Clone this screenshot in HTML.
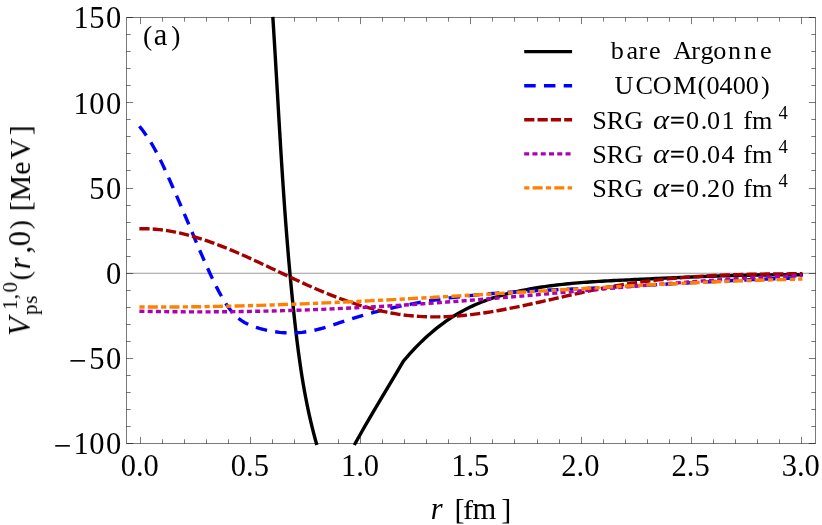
<!DOCTYPE html>
<html><head><meta charset="utf-8"><title>Plot</title>
<style>
html,body{margin:0;padding:0;background:#fff;}
body{width:822px;height:525px;overflow:hidden;}
svg{display:block;}
text{font-family:"Liberation Serif",serif;fill:#000;}
</style></head><body>
<svg width="822" height="525" viewBox="0 0 822 525">
<rect width="822" height="525" fill="#fff"/>
<defs><mask id="mk" maskUnits="userSpaceOnUse" x="0" y="0" width="822" height="525"><rect width="822" height="525" fill="#fff"/></mask></defs>
<path d="M126.50,273.30 H815.50" stroke="#9a9a9a" stroke-width="1.1" fill="none"/>
<rect x="126.5" y="17.5" width="689.0" height="426.0" fill="none" stroke="#000" stroke-opacity="0.52" stroke-width="1"/>
<path d="M140.5,443.5 v-6.6 M140.5,17.5 v6.6 M162.5,443.5 v-4.2 M162.5,17.5 v4.2 M184.5,443.5 v-4.2 M184.5,17.5 v4.2 M206.5,443.5 v-4.2 M206.5,17.5 v4.2 M228.5,443.5 v-4.2 M228.5,17.5 v4.2 M250.5,443.5 v-6.6 M250.5,17.5 v6.6 M272.5,443.5 v-4.2 M272.5,17.5 v4.2 M294.5,443.5 v-4.2 M294.5,17.5 v4.2 M316.5,443.5 v-4.2 M316.5,17.5 v4.2 M338.5,443.5 v-4.2 M338.5,17.5 v4.2 M360.5,443.5 v-6.6 M360.5,17.5 v6.6 M382.5,443.5 v-4.2 M382.5,17.5 v4.2 M404.5,443.5 v-4.2 M404.5,17.5 v4.2 M426.5,443.5 v-4.2 M426.5,17.5 v4.2 M448.5,443.5 v-4.2 M448.5,17.5 v4.2 M470.5,443.5 v-6.6 M470.5,17.5 v6.6 M492.5,443.5 v-4.2 M492.5,17.5 v4.2 M514.5,443.5 v-4.2 M514.5,17.5 v4.2 M537.5,443.5 v-4.2 M537.5,17.5 v4.2 M559.5,443.5 v-4.2 M559.5,17.5 v4.2 M581.5,443.5 v-6.6 M581.5,17.5 v6.6 M603.5,443.5 v-4.2 M603.5,17.5 v4.2 M625.5,443.5 v-4.2 M625.5,17.5 v4.2 M647.5,443.5 v-4.2 M647.5,17.5 v4.2 M669.5,443.5 v-4.2 M669.5,17.5 v4.2 M691.5,443.5 v-6.6 M691.5,17.5 v6.6 M713.5,443.5 v-4.2 M713.5,17.5 v4.2 M735.5,443.5 v-4.2 M735.5,17.5 v4.2 M757.5,443.5 v-4.2 M757.5,17.5 v4.2 M779.5,443.5 v-4.2 M779.5,17.5 v4.2 M801.5,443.5 v-6.6 M801.5,17.5 v6.6 M126.5,443.5 h6.6 M815.5,443.5 h-6.6 M126.5,426.5 h4.2 M815.5,426.5 h-4.2 M126.5,409.5 h4.2 M815.5,409.5 h-4.2 M126.5,392.5 h4.2 M815.5,392.5 h-4.2 M126.5,375.5 h4.2 M815.5,375.5 h-4.2 M126.5,358.5 h6.6 M815.5,358.5 h-6.6 M126.5,341.5 h4.2 M815.5,341.5 h-4.2 M126.5,324.5 h4.2 M815.5,324.5 h-4.2 M126.5,307.5 h4.2 M815.5,307.5 h-4.2 M126.5,290.5 h4.2 M815.5,290.5 h-4.2 M126.5,273.5 h6.6 M815.5,273.5 h-6.6 M126.5,256.5 h4.2 M815.5,256.5 h-4.2 M126.5,239.5 h4.2 M815.5,239.5 h-4.2 M126.5,222.5 h4.2 M815.5,222.5 h-4.2 M126.5,205.5 h4.2 M815.5,205.5 h-4.2 M126.5,188.5 h6.6 M815.5,188.5 h-6.6 M126.5,170.5 h4.2 M815.5,170.5 h-4.2 M126.5,153.5 h4.2 M815.5,153.5 h-4.2 M126.5,136.5 h4.2 M815.5,136.5 h-4.2 M126.5,119.5 h4.2 M815.5,119.5 h-4.2 M126.5,102.5 h6.6 M815.5,102.5 h-6.6 M126.5,85.5 h4.2 M815.5,85.5 h-4.2 M126.5,68.5 h4.2 M815.5,68.5 h-4.2 M126.5,51.5 h4.2 M815.5,51.5 h-4.2 M126.5,34.5 h4.2 M815.5,34.5 h-4.2 M126.5,17.5 h6.6 M815.5,17.5 h-6.6" stroke="#000" stroke-opacity="0.52" stroke-width="1" fill="none"/>
<g>
<path d="M272.82,16.80 L273.20,22.83 L273.58,28.86 L273.95,34.89 L274.32,40.92 L274.69,46.95 L275.05,52.99 L275.41,59.02 L275.77,65.05 L276.12,71.08 L276.48,77.11 L276.83,83.14 L277.18,89.17 L277.54,95.20 L277.89,101.23 L278.24,107.26 L278.60,113.30 L278.95,119.33 L279.31,125.36 L279.67,131.39 L280.04,137.42 L280.40,143.45 L280.77,149.48 L281.15,155.51 L281.53,161.54 L281.91,167.57 L282.30,173.61 L282.70,179.64 L283.10,185.67 L283.51,191.70 L283.93,197.73 L284.35,203.76 L284.78,209.79 L285.22,215.82 L285.67,221.85 L286.13,227.88 L286.60,233.92 L287.08,239.95 L287.57,245.98 L288.07,252.01 L288.58,258.04 L289.10,264.07 L289.64,270.10 L290.19,276.13 L290.75,282.16 L291.33,288.19 L291.92,294.23 L292.52,300.26 L293.14,306.29 L293.78,312.32 L294.43,318.35 L295.09,324.38 L295.78,330.41 L296.49,336.44 L297.22,342.47 L297.99,348.50 L298.78,354.54 L299.61,360.57 L300.48,366.60 L301.39,372.63 L302.35,378.66 L303.36,384.69 L304.41,390.72 L305.53,396.75 L306.70,402.78 L307.94,408.81 L309.24,414.85 L310.61,420.88 L312.05,426.91 L313.57,432.94 L315.17,438.97 L316.85,445.00" stroke="#000" stroke-width="3.40" fill="none"/>
<path d="M354.28,445.00 L357.64,438.99 L361.05,432.97 L364.50,426.96 L367.98,420.94 L371.49,414.93 L375.03,408.91 L378.59,402.90 L382.16,396.89 L385.74,390.87 L389.32,384.86 L392.90,378.84 L396.48,372.83 L400.04,366.81 L403.58,360.80 L406.70,357.41 L409.70,353.98 L412.71,350.66 L415.71,347.46 L418.71,344.38 L421.71,341.41 L424.72,338.56 L427.72,335.81 L430.72,333.17 L433.72,330.63 L436.72,328.19 L439.73,325.85 L442.73,323.61 L445.73,321.46 L448.73,319.40 L451.74,317.43 L454.74,315.55 L457.74,313.75 L460.74,312.03 L463.75,310.38 L466.75,308.82 L469.75,307.33 L472.75,305.90 L475.75,304.55 L478.76,303.26 L481.76,302.04 L484.76,300.88 L487.76,299.77 L490.77,298.72 L493.77,297.72 L496.77,296.78 L499.77,295.88 L502.77,295.03 L505.78,294.22 L508.78,293.45 L511.78,292.72 L514.78,292.02 L517.79,291.36 L520.79,290.73 L523.79,290.13 L526.79,289.55 L529.79,288.99 L532.80,288.46 L535.80,287.96 L538.80,287.47 L541.80,287.01 L544.81,286.57 L547.81,286.15 L550.81,285.74 L553.81,285.36 L556.82,285.00 L559.82,284.65 L562.82,284.32 L565.82,284.00 L568.82,283.70 L571.83,283.42 L574.83,283.15 L577.83,282.89 L580.83,282.64 L583.84,282.41 L586.84,282.19 L589.84,281.97 L592.84,281.77 L595.84,281.58 L598.85,281.39 L601.85,281.21 L604.85,281.04 L607.85,280.87 L610.86,280.71 L613.86,280.56 L616.86,280.41 L619.86,280.26 L622.86,280.11 L625.87,279.97 L628.87,279.83 L631.87,279.68 L634.87,279.54 L637.88,279.40 L640.88,279.26 L643.88,279.11 L646.88,278.97 L649.88,278.83 L652.89,278.69 L655.89,278.55 L658.89,278.42 L661.89,278.28 L664.90,278.14 L667.90,278.01 L670.90,277.88 L673.90,277.75 L676.91,277.62 L679.91,277.49 L682.91,277.36 L685.91,277.24 L688.91,277.11 L691.92,276.99 L694.92,276.87 L697.92,276.76 L700.92,276.64 L703.93,276.53 L706.93,276.42 L709.93,276.32 L712.93,276.21 L715.93,276.11 L718.94,276.01 L721.94,275.92 L724.94,275.83 L727.94,275.74 L730.95,275.65 L733.95,275.57 L736.95,275.49 L739.95,275.42 L742.95,275.35 L745.96,275.28 L748.96,275.22 L751.96,275.16 L754.96,275.11 L757.97,275.05 L760.97,275.01 L763.97,274.97 L766.97,274.93 L769.98,274.90 L772.98,274.87 L775.98,274.84 L778.98,274.83 L781.98,274.81 L784.99,274.80 L787.99,274.80 L790.99,274.80 L793.99,274.81 L797.00,274.82 L800.00,274.84 L803.00,274.87" stroke="#000" stroke-width="3.40" fill="none" stroke-linejoin="round"/>
<path d="M139.40,126.25 L141.90,129.33 L144.40,132.65 L146.91,136.22 L149.41,140.03 L151.91,144.11 L154.41,148.46 L156.91,153.08 L159.42,157.99 L161.92,163.13 L164.42,168.47 L166.92,173.95 L169.42,179.55 L171.92,185.21 L174.43,190.89 L176.93,196.61 L179.43,202.39 L181.93,208.22 L184.43,214.11 L186.94,220.03 L189.44,225.97 L191.94,231.92 L194.44,237.86 L196.94,243.77 L199.45,249.63 L201.95,255.43 L204.45,261.15 L206.95,266.77 L209.45,272.28 L211.95,277.65 L214.46,282.86 L216.96,287.88 L219.46,292.67 L221.96,297.19 L224.46,301.42 L226.97,305.30 L229.47,308.81 L231.97,311.92 L234.47,314.64 L236.97,317.02 L239.48,319.08 L241.98,320.86 L244.48,322.40 L246.98,323.72 L249.48,324.87 L251.98,325.87 L254.49,326.77 L256.99,327.59 L259.49,328.35 L261.99,329.05 L264.49,329.70 L267.00,330.29 L269.50,330.82 L272.00,331.29 L274.50,331.70 L277.00,332.05 L279.51,332.35 L282.01,332.59 L284.51,332.76 L287.01,332.88 L289.51,332.94 L292.02,332.94 L294.52,332.88 L297.02,332.76 L299.52,332.58 L302.02,332.34 L304.52,332.04 L307.03,331.68 L309.53,331.26 L312.03,330.78 L314.53,330.24 L317.03,329.64 L319.54,328.99 L322.04,328.30 L324.54,327.57 L327.04,326.81 L329.54,326.02 L332.05,325.21 L334.55,324.38 L337.05,323.55 L339.55,322.71 L342.05,321.87 L344.55,321.05 L347.06,320.23 L349.56,319.43 L352.06,318.65 L354.56,317.88 L357.06,317.12 L359.57,316.38 L362.07,315.66 L364.57,314.94 L367.07,314.24 L369.57,313.56 L372.08,312.88 L374.58,312.22 L377.08,311.58 L379.58,310.95 L382.08,310.32 L384.58,309.72 L387.09,309.12 L389.59,308.54 L392.09,307.97 L394.59,307.41 L397.09,306.86 L399.60,306.33 L402.10,305.81 L404.60,305.30 L407.10,304.80 L409.60,304.31 L412.11,303.83 L414.61,303.37 L417.11,302.91 L419.61,302.47 L422.11,302.03 L424.62,301.61 L427.12,301.19 L429.62,300.79 L432.12,300.40 L434.62,300.02 L437.12,299.64 L439.63,299.28 L442.13,298.92 L444.63,298.58 L447.13,298.24 L449.63,297.91 L452.14,297.60 L454.64,297.29 L457.14,296.98 L459.64,296.69 L462.14,296.40 L464.65,296.13 L467.15,295.86 L469.65,295.59 L472.15,295.34 L474.65,295.09 L477.15,294.85 L479.66,294.62 L482.16,294.39 L484.66,294.17 L487.16,293.95 L489.66,293.74 L492.17,293.54 L494.67,293.34 L497.17,293.15 L499.67,292.96 L502.17,292.78 L504.68,292.60 L507.18,292.43 L509.68,292.26 L512.18,292.10 L514.68,291.94 L517.18,291.78 L519.69,291.63 L522.19,291.49 L524.69,291.34 L527.19,291.20 L529.69,291.06 L532.20,290.93 L534.70,290.80 L537.20,290.67 L539.70,290.54 L542.20,290.41 L544.71,290.29 L547.21,290.17 L549.71,290.05 L552.21,289.93 L554.71,289.82 L557.22,289.70 L559.72,289.59 L562.22,289.47 L564.72,289.36 L567.22,289.25 L569.72,289.14 L572.23,289.02 L574.73,288.91 L577.23,288.80 L579.73,288.69 L582.23,288.57 L584.74,288.46 L587.24,288.34 L589.74,288.23 L592.24,288.11 L594.74,287.99 L597.25,287.87 L599.75,287.74 L602.25,287.62 L604.75,287.49 L607.25,287.37 L609.75,287.24 L612.26,287.11 L614.76,286.98 L617.26,286.85 L619.76,286.72 L622.26,286.58 L624.77,286.45 L627.27,286.31 L629.77,286.18 L632.27,286.04 L634.77,285.90 L637.28,285.76 L639.78,285.63 L642.28,285.49 L644.78,285.35 L647.28,285.21 L649.78,285.07 L652.29,284.92 L654.79,284.78 L657.29,284.64 L659.79,284.50 L662.29,284.36 L664.80,284.22 L667.30,284.07 L669.80,283.93 L672.30,283.79 L674.80,283.65 L677.31,283.51 L679.81,283.37 L682.31,283.23 L684.81,283.09 L687.31,282.95 L689.82,282.81 L692.32,282.67 L694.82,282.53 L697.32,282.39 L699.82,282.25 L702.32,282.12 L704.83,281.98 L707.33,281.85 L709.83,281.71 L712.33,281.58 L714.83,281.45 L717.34,281.31 L719.84,281.18 L722.34,281.06 L724.84,280.93 L727.34,280.80 L729.85,280.68 L732.35,280.55 L734.85,280.43 L737.35,280.31 L739.85,280.19 L742.35,280.07 L744.86,279.96 L747.36,279.84 L749.86,279.73 L752.36,279.62 L754.86,279.51 L757.37,279.40 L759.87,279.30 L762.37,279.19 L764.87,279.09 L767.37,278.99 L769.88,278.90 L772.38,278.80 L774.88,278.71 L777.38,278.62 L779.88,278.53 L782.38,278.45 L784.89,278.36 L787.39,278.28 L789.89,278.20 L792.39,278.13 L794.89,278.06 L797.40,277.99 L799.90,277.92 L802.40,277.86" stroke="#0000ff" stroke-width="3.40" fill="none" stroke-dasharray="11.5 8.25"/>
<path d="M139.40,228.81 L143.39,228.75 L147.39,228.80 L151.38,228.97 L155.38,229.24 L159.37,229.61 L163.36,230.08 L167.36,230.65 L171.35,231.31 L175.35,232.06 L179.34,232.90 L183.33,233.82 L187.33,234.82 L191.32,235.90 L195.32,237.05 L199.31,238.27 L203.30,239.55 L207.30,240.90 L211.29,242.31 L215.29,243.77 L219.28,245.29 L223.27,246.85 L227.27,248.46 L231.26,250.11 L235.26,251.80 L239.25,253.52 L243.24,255.28 L247.24,257.07 L251.23,258.88 L255.23,260.71 L259.22,262.56 L263.21,264.43 L267.21,266.30 L271.20,268.19 L275.20,270.08 L279.19,271.97 L283.18,273.86 L287.18,275.75 L291.17,277.62 L295.17,279.48 L299.16,281.33 L303.15,283.16 L307.15,284.97 L311.14,286.75 L315.13,288.50 L319.13,290.21 L323.12,291.90 L327.12,293.54 L331.11,295.14 L335.10,296.69 L339.10,298.20 L343.09,299.67 L347.09,301.08 L351.08,302.44 L355.07,303.75 L359.07,305.01 L363.06,306.21 L367.06,307.36 L371.05,308.45 L375.04,309.48 L379.04,310.44 L383.03,311.35 L387.03,312.19 L391.02,312.96 L395.01,313.67 L399.01,314.31 L403.00,314.87 L407.00,315.37 L410.99,315.79 L414.98,316.14 L418.98,316.42 L422.97,316.64 L426.97,316.79 L430.96,316.87 L434.95,316.89 L438.95,316.85 L442.94,316.76 L446.94,316.61 L450.93,316.40 L454.92,316.15 L458.92,315.84 L462.91,315.48 L466.91,315.08 L470.90,314.64 L474.89,314.15 L478.89,313.62 L482.88,313.06 L486.88,312.46 L490.87,311.82 L494.86,311.15 L498.86,310.46 L502.85,309.73 L506.85,308.98 L510.84,308.20 L514.83,307.40 L518.83,306.58 L522.82,305.75 L526.82,304.89 L530.81,304.02 L534.80,303.15 L538.80,302.25 L542.79,301.36 L546.79,300.45 L550.78,299.54 L554.77,298.63 L558.77,297.72 L562.76,296.81 L566.76,295.90 L570.75,295.00 L574.74,294.11 L578.74,293.23 L582.73,292.36 L586.73,291.50 L590.72,290.66 L594.71,289.83 L598.71,289.03 L602.70,288.24 L606.70,287.48 L610.69,286.75 L614.68,286.04 L618.68,285.36 L622.67,284.70 L626.67,284.07 L630.66,283.47 L634.65,282.88 L638.65,282.33 L642.64,281.79 L646.63,281.28 L650.63,280.79 L654.62,280.32 L658.62,279.87 L662.61,279.45 L666.60,279.04 L670.60,278.65 L674.59,278.29 L678.59,277.94 L682.58,277.61 L686.57,277.30 L690.57,277.00 L694.56,276.72 L698.56,276.46 L702.55,276.21 L706.54,275.98 L710.54,275.77 L714.53,275.57 L718.53,275.38 L722.52,275.20 L726.51,275.04 L730.51,274.89 L734.50,274.76 L738.50,274.63 L742.49,274.52 L746.48,274.41 L750.48,274.32 L754.47,274.23 L758.47,274.15 L762.46,274.09 L766.45,274.03 L770.45,273.97 L774.44,273.93 L778.44,273.89 L782.43,273.86 L786.42,273.83 L790.42,273.81 L794.41,273.79 L798.41,273.78 L802.40,273.77" stroke="#a50000" stroke-width="3.40" fill="none" stroke-dasharray="10.2 3.13"/>
<path d="M139.40,311.24 L145.43,311.36 L151.45,311.47 L157.48,311.56 L163.51,311.65 L169.54,311.71 L175.56,311.77 L181.59,311.81 L187.62,311.84 L193.65,311.86 L199.67,311.86 L205.70,311.85 L211.73,311.83 L217.75,311.80 L223.78,311.75 L229.81,311.69 L235.84,311.62 L241.86,311.54 L247.89,311.45 L253.92,311.34 L259.95,311.22 L265.97,311.09 L272.00,310.95 L278.03,310.79 L284.05,310.63 L290.08,310.45 L296.11,310.26 L302.14,310.06 L308.16,309.85 L314.19,309.62 L320.22,309.39 L326.25,309.15 L332.27,308.89 L338.30,308.62 L344.33,308.34 L350.35,308.06 L356.38,307.76 L362.41,307.45 L368.44,307.13 L374.46,306.79 L380.49,306.45 L386.52,306.10 L392.55,305.74 L398.57,305.37 L404.60,304.99 L410.63,304.59 L416.65,304.19 L422.68,303.78 L428.71,303.37 L434.74,302.94 L440.76,302.51 L446.79,302.06 L452.82,301.62 L458.85,301.16 L464.87,300.70 L470.90,300.23 L476.93,299.75 L482.95,299.27 L488.98,298.79 L495.01,298.29 L501.04,297.80 L507.06,297.30 L513.09,296.79 L519.12,296.28 L525.15,295.77 L531.17,295.25 L537.20,294.73 L543.23,294.21 L549.25,293.68 L555.28,293.16 L561.31,292.63 L567.34,292.10 L573.36,291.57 L579.39,291.04 L585.42,290.52 L591.45,289.99 L597.47,289.47 L603.50,288.94 L609.53,288.42 L615.55,287.90 L621.58,287.39 L627.61,286.88 L633.64,286.37 L639.66,285.87 L645.69,285.37 L651.72,284.88 L657.75,284.39 L663.77,283.91 L669.80,283.43 L675.83,282.97 L681.85,282.51 L687.88,282.06 L693.91,281.62 L699.94,281.18 L705.96,280.76 L711.99,280.34 L718.02,279.94 L724.05,279.55 L730.07,279.16 L736.10,278.79 L742.13,278.43 L748.15,278.09 L754.18,277.75 L760.21,277.43 L766.24,277.13 L772.26,276.83 L778.29,276.56 L784.32,276.29 L790.35,276.05 L796.37,275.81 L802.40,275.60" stroke="#ab00b4" stroke-width="3.40" fill="none" stroke-dasharray="5.0 3.27"/>
<path d="M139.40,307.04 L145.43,307.06 L151.45,307.06 L157.48,307.06 L163.51,307.04 L169.54,307.02 L175.56,306.98 L181.59,306.93 L187.62,306.87 L193.65,306.79 L199.67,306.71 L205.70,306.62 L211.73,306.52 L217.75,306.40 L223.78,306.28 L229.81,306.14 L235.84,306.00 L241.86,305.85 L247.89,305.69 L253.92,305.52 L259.95,305.34 L265.97,305.15 L272.00,304.96 L278.03,304.75 L284.05,304.54 L290.08,304.32 L296.11,304.10 L302.14,303.86 L308.16,303.62 L314.19,303.37 L320.22,303.12 L326.25,302.86 L332.27,302.59 L338.30,302.32 L344.33,302.04 L350.35,301.76 L356.38,301.47 L362.41,301.17 L368.44,300.87 L374.46,300.57 L380.49,300.26 L386.52,299.94 L392.55,299.62 L398.57,299.30 L404.60,298.97 L410.63,298.64 L416.65,298.31 L422.68,297.98 L428.71,297.64 L434.74,297.29 L440.76,296.95 L446.79,296.60 L452.82,296.25 L458.85,295.90 L464.87,295.55 L470.90,295.19 L476.93,294.83 L482.95,294.48 L488.98,294.12 L495.01,293.76 L501.04,293.40 L507.06,293.04 L513.09,292.68 L519.12,292.32 L525.15,291.96 L531.17,291.60 L537.20,291.24 L543.23,290.88 L549.25,290.52 L555.28,290.16 L561.31,289.81 L567.34,289.45 L573.36,289.10 L579.39,288.75 L585.42,288.41 L591.45,288.06 L597.47,287.72 L603.50,287.38 L609.53,287.04 L615.55,286.71 L621.58,286.38 L627.61,286.05 L633.64,285.73 L639.66,285.41 L645.69,285.10 L651.72,284.79 L657.75,284.48 L663.77,284.18 L669.80,283.89 L675.83,283.60 L681.85,283.31 L687.88,283.04 L693.91,282.76 L699.94,282.50 L705.96,282.24 L711.99,281.98 L718.02,281.73 L724.05,281.49 L730.07,281.26 L736.10,281.03 L742.13,280.81 L748.15,280.60 L754.18,280.40 L760.21,280.20 L766.24,280.02 L772.26,279.84 L778.29,279.67 L784.32,279.51 L790.35,279.36 L796.37,279.21 L802.40,279.08" stroke="#ff8000" stroke-width="3.40" fill="none" stroke-dasharray="5.2 3.2 10.0 3.3"/>
</g>
<g>
<path d="M524.2,51.6 H572.1" stroke="#000" stroke-width="3.40"/>
<path d="M524.2,85.7 H572.1" stroke="#0000ff" stroke-width="3.40" stroke-dasharray="11.5 8.25"/>
<path d="M524.2,119.7 H572.1" stroke="#a50000" stroke-width="3.40" stroke-dasharray="10.2 3.13"/>
<path d="M524.2,153.9 H572.1" stroke="#ab00b4" stroke-width="3.40" stroke-dasharray="5.0 3.27"/>
<path d="M524.2,187.9 H572.1" stroke="#ff8000" stroke-width="3.40" stroke-dasharray="5.2 3.2 10.0 3.3"/>
</g>
<g mask="url(#mk)">
<text x="120.64" y="475.80" font-size="30.50">0.0</text>
<text x="230.81" y="475.80" font-size="30.50">0.5</text>
<text x="340.99" y="475.80" font-size="30.50">1.0</text>
<text x="451.16" y="475.80" font-size="30.50">1.5</text>
<text x="561.34" y="475.80" font-size="30.50">2.0</text>
<text x="671.51" y="475.80" font-size="30.50">2.5</text>
<text x="781.69" y="475.80" font-size="30.50">3.0</text>
<text x="73.60 89.30 106.10" y="28.46" font-size="30.50">150</text>
<text x="73.60 89.30 106.10" y="113.64" font-size="30.50">100</text>
<text x="89.30 106.10" y="198.82" font-size="30.50">50</text>
<text x="106.10" y="284.00" font-size="30.50">0</text>
<text x="89.30 106.10" y="369.18" font-size="30.50">50</text>
<text x="73.60 89.30 106.10" y="454.36" font-size="30.50">100</text>
<text x="69.0" y="370.93" font-size="30.50" stroke="#000" stroke-width="0.3">−</text>
<text x="53.8" y="456.11" font-size="30.50" stroke="#000" stroke-width="0.3">−</text>
<text x="153.80" y="45.00" font-size="30.50">a</text>
<text x="143.00" y="44.50" font-size="27.60">(</text>
<text x="171.20" y="44.50" font-size="27.60">)</text>
<text x="430.85" y="518.60" font-size="30.50" font-style="italic">r</text>
<text x="454.50" y="518.60" font-size="30.20">[</text>
<text transform="translate(462.95,518.6) scale(1,0.92)" font-size="30.50">f</text>
<text x="472.40" y="518.60" font-size="30.50">m</text>
<text x="501.20" y="518.60" font-size="30.20">]</text>
<text x="610.70 626.60 638.50 648.90" y="58.60" font-size="26.20">bare</text>
<text x="673.30 691.30 700.40 713.20 727.90 743.70 760.00" y="58.60" font-size="26.20">Argonne</text>
<text x="614.40 635.40 652.70 673.30 697.60 706.45 719.55 732.70 745.65 761.10" y="94.40" font-size="26.20">UCOM(0400)</text>
<text x="592.30 606.70 624.15" y="129.30" font-size="26.20">SRG</text>
<text transform="translate(652.9,129.30) scale(1.17,1.04)" font-size="26.20" font-style="italic">α</text>
<text x="669.9" y="129.30" font-size="26.20" stroke="#000" stroke-width="0.35">=</text>
<text x="686.00 700.70 707.00 721.50" y="129.30" font-size="26.20">0.01</text>
<text x="743.30 751.90" y="129.30" font-size="26.20">fm</text>
<text x="778.60" y="118.70" font-size="18.60">4</text>
<text x="592.30 606.70 624.15" y="163.30" font-size="26.20">SRG</text>
<text transform="translate(652.9,163.30) scale(1.17,1.04)" font-size="26.20" font-style="italic">α</text>
<text x="669.9" y="163.30" font-size="26.20" stroke="#000" stroke-width="0.35">=</text>
<text x="686.00 700.70 707.00 721.50" y="163.30" font-size="26.20">0.04</text>
<text x="743.30 751.90" y="163.30" font-size="26.20">fm</text>
<text x="778.60" y="152.70" font-size="18.60">4</text>
<text x="592.30 606.70 624.15" y="197.20" font-size="26.20">SRG</text>
<text transform="translate(652.9,197.20) scale(1.17,1.04)" font-size="26.20" font-style="italic">α</text>
<text x="669.9" y="197.20" font-size="26.20" stroke="#000" stroke-width="0.35">=</text>
<text x="686.00 700.70 707.00 721.50" y="197.20" font-size="26.20">0.20</text>
<text x="743.30 751.90" y="197.20" font-size="26.20">fm</text>
<text x="778.60" y="186.60" font-size="18.60">4</text>
<g transform="translate(30.0,334.3) rotate(-90)"><text x="-1.60" y="0.00" font-size="30.50" font-style="italic">V</text><text x="19.20 30.50" y="7.30" font-size="21.00">ps</text><text x="24.35 34.90 41.80" y="-13.00" font-size="21.00">1,0</text><text x="54.10" y="-1.00" font-size="27.60">(</text><text x="65.10" y="0.00" font-size="30.50" font-style="italic">r</text><text x="80.70" y="0.00" font-size="30.50">,</text><text x="87.90" y="0.00" font-size="30.50">0</text><text x="105.00" y="-1.00" font-size="27.60">)</text><text x="122.90" y="0.30" font-size="30.00">[</text><text x="132.90" y="0.00" font-size="29.60">M</text><text x="159.60" y="0.00" font-size="29.60">e</text><text x="174.70" y="0.00" font-size="29.60">V</text><text x="199.00" y="0.30" font-size="30.00">]</text></g>
</g>
</svg>
</body></html>
